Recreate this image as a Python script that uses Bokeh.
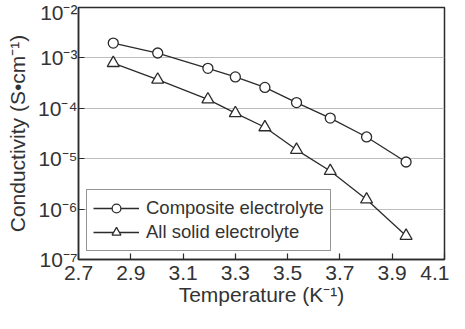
from bokeh.plotting import figure
from bokeh.models import FixedTicker, Legend, LegendItem, Range1d
from bokeh.embed import file_html
from bokeh.resources import INLINE

# Data (1000/T in K^-1, conductivity in S/cm)
temps = [2.833, 3.003, 3.195, 3.300, 3.413, 3.534, 3.663, 3.802, 3.953]
composite = [1.97e-3, 1.25e-3, 6.2e-4, 4.2e-4, 2.6e-4, 1.3e-4, 6.4e-5, 2.7e-5, 8.6e-6]
all_solid = [7.9e-4, 3.7e-4, 1.5e-4, 8.0e-5, 4.2e-5, 1.5e-5, 5.7e-6, 1.55e-6, 2.95e-7]
series_names = ["Composite electrolyte", "All solid electrolyte"]

x_ticks = [2.7, 2.9, 3.1, 3.3, 3.5, 3.7, 3.9, 4.1]
x_tick_labels = ["2.7", "2.9", "3.1", "3.3", "3.5", "3.7", "3.9", "4.1"]
y_ticks = [1e-7, 1e-6, 1e-5, 1e-4, 1e-3, 1e-2]
y_tick_labels = ["10\u207b\u2077", "10\u207b\u2076", "10\u207b\u2075", "10\u207b\u2074", "10\u207b\u00b3", "10\u207b\u00b2"]

FONT = "Liberation Sans"
TXT = "#333333"
LINE = "#2b2b2b"

p = figure(width=449, height=313, y_axis_type="log",
           x_range=Range1d(2.7, 4.1), y_range=Range1d(1e-7, 1e-2),
           output_backend="svg", toolbar_location=None,
           min_border_left=78, min_border_right=5, min_border_top=7, min_border_bottom=54)

p.outline_line_color = LINE
p.outline_line_width = 1.5
p.background_fill_color = "white"
p.border_fill_color = "white"

# axes
p.xaxis.ticker = FixedTicker(ticks=x_ticks)
p.xaxis.major_label_overrides = {t: l for t, l in zip(x_ticks, x_tick_labels)}
p.yaxis.ticker = FixedTicker(ticks=y_ticks, minor_ticks=[])
p.yaxis.major_label_overrides = {t: l for t, l in zip(y_ticks, y_tick_labels)}

for ax in (p.xaxis[0], p.yaxis[0]):
    ax.axis_line_color = LINE
    ax.axis_line_width = 1.5
    ax.major_label_text_font = FONT
    ax.major_label_text_font_size = "21px"
    ax.major_label_text_color = TXT
    ax.axis_label_text_font = FONT
    ax.axis_label_text_font_size = "21px"
    ax.axis_label_text_font_style = "normal"
    ax.axis_label_text_color = TXT
    ax.minor_tick_line_color = None
    ax.major_tick_in = 6
    ax.major_tick_out = 0
    ax.major_tick_line_color = LINE
    ax.major_tick_line_width = 1.2

p.xaxis.major_label_standoff = 6
p.xaxis.axis_label = "Temperature (K\u207b\u00b9)"
p.xaxis.axis_label_standoff = 0

p.yaxis.major_label_standoff = 1
p.yaxis.axis_label = "Conductivity (S\u2022cm\u207b\u00b9)"
p.yaxis.axis_label_standoff = 6

p.xgrid.grid_line_color = None
p.ygrid.grid_line_color = "#bdbdbd"
p.ygrid.grid_line_width = 1.2

# series
l1 = p.line(temps, composite, line_color=LINE, line_width=1.3)
m1 = p.scatter(temps, composite, marker="circle", size=10, line_color=LINE,
               line_width=1.3, fill_color="white")
l2 = p.line(temps, all_solid, line_color=LINE, line_width=1.3)
m2 = p.scatter(temps, all_solid, marker="triangle", size=12, line_color=LINE,
               line_width=1.3, fill_color="white")

legend = Legend(items=[LegendItem(label=series_names[0], renderers=[l1, m1]),
                       LegendItem(label=series_names[1], renderers=[l2, m2])],
                location="bottom_left")
legend.label_text_font = FONT
legend.label_text_font_size = "18.5px"
legend.label_text_color = TXT
legend.border_line_color = LINE
legend.border_line_width = 1.5
legend.background_fill_alpha = 1.0
legend.glyph_width = 46
legend.glyph_height = 22
legend.label_height = 24
legend.label_standoff = 7
legend.spacing = 0
legend.padding = 6
legend.margin = 8
p.add_layout(legend)

open("out.html", "w").write(file_html(p, INLINE))
